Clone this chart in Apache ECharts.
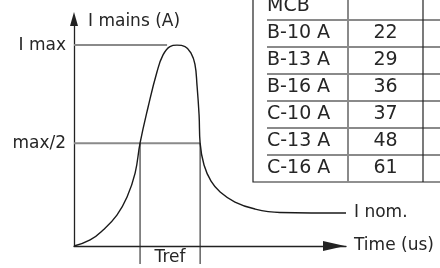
<!DOCTYPE html>
<html>
<head>
<meta charset="utf-8">
<script src="https://cdn.jsdelivr.net/npm/echarts@6/dist/echarts.min.js"></script>
<style>
html,body{margin:0;padding:0;background:#fff;}
#chart{width:440px;height:268px;}
</style>
</head>
<body>
<div id="chart"></div>
<script>
// ---- data ----
const curveT = [0, 6.2, 11.2, 16.5, 20.4, 23.5, 25.4, 28.5, 31.9, 34.2, 36.9, 39.6, 42.7, 45.0, 46.5, 47.3, 48.1, 48.5, 50.0, 52.7, 56.2, 61.9, 69.6, 79.2, 104.6];
const curveI = [0, 3.0, 8.0, 15.4, 24.4, 36.3, 51.2, 69.2, 86.6, 95.0, 99.3, 100, 99.3, 96.0, 90.5, 80.1, 65.2, 51.2, 40.3, 32.3, 26.9, 21.9, 18.4, 16.7, 16.4];
const iMax = 100;
const iHalf = 51.2;
const iMaxLineEnd = 35.8;
const tRef = [25.4, 48.5];
const tRefBottom = -9;
const yTickValues = [iMax, iHalf];
const yTickLabels = ['I max', 'max/2'];
const xTickLabel = 'Tref';
const curveEndLabel = 'I nom.';
const yAxisName = 'I mains (A)';
const xAxisName = 'Time (us)';

const tableHeader = 'MCB';
const mcbTypes = ['B-10 A', 'B-13 A', 'B-16 A', 'C-10 A', 'C-13 A', 'C-16 A'];
const mcbPeak = [22, 29, 36, 37, 48, 61];

// ---- chart ----
const FONT = 'DejaVu Sans';
const TXT = '#262626';
const chart = echarts.init(document.getElementById('chart'), null, {renderer: 'canvas'});

const curveData = curveT.map((t, i) => [t, curveI[i]]);
const tRefMid = (tRef[0] + tRef[1]) / 2;

// table graphic built from arrays
const tb = {left: 253, top: -7, rowH: 27, textX: 267, col1: 348, col2: 423, right: 460};
const tableBottom = tb.top + tb.rowH * (mcbTypes.length + 1);
const graphics = [];
graphics.push({type: 'rect', shape: {x: tb.left, y: tb.top - 6, width: tb.right - tb.left, height: tableBottom - tb.top + 6},
  style: {fill: 'none', stroke: '#222', lineWidth: 1.2}, z: 10});
for (let i = 0; i < mcbTypes.length; i++) {
  const y = tb.top + tb.rowH * (i + 1);
  graphics.push({type: 'line', shape: {x1: tb.textX, y1: y, x2: 440, y2: y}, style: {stroke: '#8a8a8a', lineWidth: 2}, z: 10});
}
graphics.push({type: 'line', shape: {x1: tb.col1, y1: tb.top - 6, x2: tb.col1, y2: tableBottom}, style: {stroke: '#8a8a8a', lineWidth: 2}, z: 11});
graphics.push({type: 'line', shape: {x1: tb.col2, y1: tb.top - 6, x2: tb.col2, y2: tableBottom}, style: {stroke: '#222', lineWidth: 1.2}, z: 11});
graphics.push({type: 'text', x: tb.textX, y: tb.top + tb.rowH / 2, style: {text: tableHeader, font: '19px "' + FONT + '"', fill: TXT, verticalAlign: 'middle', align: 'left'}, z: 12});
mcbTypes.forEach((name, i) => {
  const cy = tb.top + tb.rowH * (i + 1) + tb.rowH / 2;
  graphics.push({type: 'text', x: tb.textX, y: cy, style: {text: name, font: '19px "' + FONT + '"', fill: TXT, verticalAlign: 'middle', align: 'left'}, z: 12});
  graphics.push({type: 'text', x: (tb.col1 + tb.col2) / 2, y: cy, style: {text: String(mcbPeak[i]), font: '19px "' + FONT + '"', fill: TXT, verticalAlign: 'middle', align: 'center'}, z: 12});
});

const option = {
  animation: false,
  backgroundColor: '#fff',
  grid: {left: 74, right: 94, top: 19, bottom: 22, containLabel: false},
  xAxis: {
    type: 'value', min: 0, max: 104.6,
    name: xAxisName, nameLocation: 'end', nameGap: 8,
    nameTextStyle: {fontFamily: FONT, fontSize: 17, color: TXT, align: 'left', verticalAlign: 'middle'},
    axisLine: {show: true, symbol: ['none', 'triangle'], symbolSize: [10, 22], symbolOffset: [0, -12],
      lineStyle: {color: '#222', width: 1.3}},
    axisTick: {show: false},
    splitLine: {show: false},
    axisLabel: {show: true, customValues: [tRefMid], formatter: () => xTickLabel, margin: 3,
      fontFamily: FONT, fontSize: 17, color: TXT}
  },
  yAxis: {
    type: 'value', min: 0, max: 113,
    name: yAxisName, nameLocation: 'end', nameGap: -3,
    nameTextStyle: {fontFamily: FONT, fontSize: 17, color: TXT, align: 'left', verticalAlign: 'middle', padding: [0, 0, 0, 14]},
    axisLine: {show: true, symbol: ['none', 'triangle'], symbolSize: [8, 14], lineStyle: {color: '#222', width: 1.3}},
    axisTick: {show: false},
    splitLine: {show: false},
    axisLabel: {show: true, customValues: yTickValues,
      formatter: v => yTickLabels[yTickValues.indexOf(v)] || '', margin: 8,
      fontFamily: FONT, fontSize: 17, color: TXT}
  },
  series: [
    {
      type: 'line', clip: false, silent: true, showSymbol: false,
      data: [[0, iMax], [iMaxLineEnd, iMax]],
      lineStyle: {color: '#8a8a8a', width: 2}, z: 2
    },
    {
      type: 'line', clip: false, silent: true, showSymbol: false,
      data: [[0, iHalf], [tRef[1], iHalf]],
      lineStyle: {color: '#8a8a8a', width: 2}, z: 2
    },
    {
      type: 'line', clip: false, silent: true, showSymbol: false,
      data: [[tRef[0], iHalf], [tRef[0], tRefBottom]],
      lineStyle: {color: '#2a2a2a', width: 1.1}, z: 2
    },
    {
      type: 'line', clip: false, silent: true, showSymbol: false,
      data: [[tRef[1], iHalf], [tRef[1], tRefBottom]],
      lineStyle: {color: '#2a2a2a', width: 1.1}, z: 2
    },
    {
      type: 'line', clip: false, silent: true, showSymbol: false,
      smooth: 0.45,
      data: curveData,
      lineStyle: {color: '#1a1a1a', width: 1.4}, z: 3,
      endLabel: {show: true, formatter: () => curveEndLabel, distance: 8,
        fontFamily: FONT, fontSize: 17, color: TXT}
    }
  ],
  graphic: graphics
};
chart.setOption(option);
</script>
</body>
</html>
